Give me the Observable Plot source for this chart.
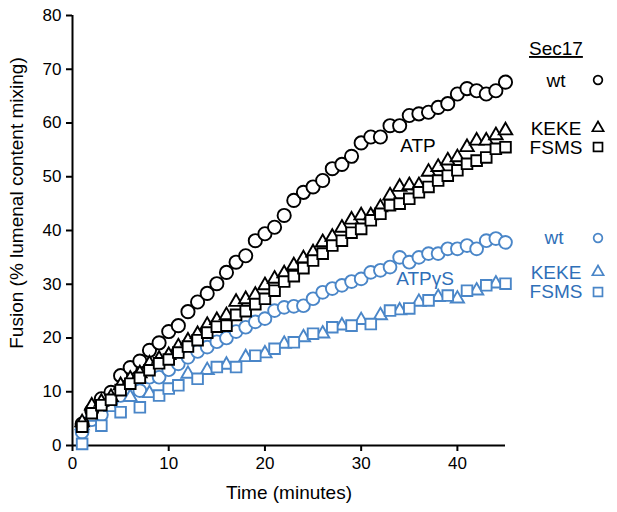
<!DOCTYPE html>
<html>
<head>
<meta charset="utf-8">
<script src="https://cdn.jsdelivr.net/npm/d3@7"></script>
<script src="https://cdn.jsdelivr.net/npm/@observablehq/plot@0.6"></script>
<style>
  body { margin: 0; background: #fff; }
  #chart { width: 617px; height: 512px; }
</style>
</head>
<body>
<div id="chart"></div>
<script>
// Time points (minutes)
const minutes = d3.range(1, 46);

// ATP series
const atpWt   = [4.0,6.5,8.7,9.9,13.0,14.5,15.7,17.7,19.1,21.2,22.3,24.9,26.7,28.3,30.1,32.2,34.1,35.3,38.1,39.4,40.6,42.8,45.6,47.1,48.1,49.3,51.5,52.3,53.8,56.3,57.4,57.4,59.5,59.5,61.4,61.7,62.0,62.9,63.6,65.4,66.4,66.0,65.4,66.0,67.6];
const atpKeke = [4.3,7.4,8.1,9.0,11.2,12.4,13.4,15.2,16.1,16.8,18.4,19.5,20.7,22.4,23.3,24.2,26.7,27.2,28.0,29.8,31.0,32.0,33.5,34.8,35.9,37.8,38.8,40.5,42.0,42.8,42.8,44.3,46.5,48.1,48.4,48.4,50.9,51.8,53.0,53.6,55.5,56.7,56.7,57.7,58.6];
const atpFsms = [3.5,6.0,7.5,8.5,10.3,11.5,12.6,14.0,15.3,16.0,17.3,18.4,19.6,21.0,22.1,22.3,24.3,25.0,26.3,27.3,28.8,30.5,31.5,33.0,34.4,35.7,37.2,38.1,39.6,40.3,41.9,43.1,44.7,45.0,45.9,47.1,48.1,49.3,50.2,51.2,52.4,53.0,53.6,55.2,55.5];

// ATPγS series
const gsWt = [2.5,4.8,5.7,8.0,9.3,10.2,10.2,12.7,12.7,14.1,15.2,16.4,17.5,18.3,19.3,20.0,21.2,22.0,23.0,23.6,25.1,25.7,25.9,26.0,27.3,28.5,29.2,29.8,30.5,31.0,32.2,32.6,33.2,35.0,34.1,35.0,35.7,35.7,36.6,36.6,37.2,36.6,38.1,38.5,37.8];
const gsKekeT = [1,2,4,6,8,12,14,16,18,20,22,24,26,28,30,32,34,36,38,40,42,44];
const gsKeke  = [3.7,5.3,7.1,9.0,9.7,13.3,14.0,15.0,16.4,17.1,18.9,20.1,20.8,22.3,23.3,24.2,25.1,26.7,27.6,27.3,28.8,30.1];
const gsFsmsT = [1,3,5,7,9,10,11,13,15,17,19,21,23,25,27,29,31,33,35,37,39,41,43,45];
const gsFsms  = [0.3,3.7,6.2,7.1,9.3,10.6,11.2,12.4,14.6,14.6,16.7,18.0,19.2,20.8,22.0,22.3,22.6,25.1,25.5,27.0,27.9,28.8,29.8,30.1];

const xTicks = [0,10,20,30,40];
const yTicks = [0,10,20,30,40,50,60,70,80];

const black = "#000";
const blue = "#4a86c8";
const blueText = "#2f6fb8";

const zipT = (ts, vs) => ts.map((t, i) => ({t, v: vs[i]}));
const dAtpWt = zipT(minutes, atpWt);
const dAtpKeke = zipT(minutes, atpKeke);
const dAtpFsms = zipT(minutes, atpFsms);
const dGsWt = zipT(minutes, gsWt);
const dGsKeke = zipT(gsKekeT, gsKeke);
const dGsFsms = zipT(gsFsmsT, gsFsms);

const dotOpts = (symbol, r, stroke) => ({x: "t", y: "v", symbol, r, stroke, fill: "white", strokeWidth: 1.9});

const plot = Plot.plot({
  width: 617,
  height: 512,
  marginLeft: 72,
  marginRight: 112,
  marginTop: 15,
  marginBottom: 67,
  style: {fontFamily: "Liberation Sans, Arial, sans-serif", fontSize: "17px", background: "white", color: "black"},
  x: {domain: [0, 45], label: null},
  y: {domain: [0, 80], label: null},
  marks: [
    Plot.axisX({ticks: xTicks, tickSize: 6, tickPadding: 5, stroke: black, strokeWidth: 2, label: null}),
    Plot.axisY({ticks: yTicks, tickSize: 6, tickPadding: 5, stroke: black, strokeWidth: 2, label: null}),
    Plot.ruleY([0], {stroke: black, strokeWidth: 2}),
    Plot.ruleX([0], {stroke: black, strokeWidth: 2}),
    Plot.dot(dGsWt, dotOpts("circle", 6.4, blue)),
    Plot.dot(dGsKeke, dotOpts("triangle", 4.9, blue)),
    Plot.dot(dGsFsms, dotOpts("square", 6.0, blue)),
    Plot.dot(dAtpWt, dotOpts("circle", 6.6, black)),
    Plot.dot(dAtpKeke, dotOpts("triangle", 5.0, black)),
    Plot.dot(dAtpFsms, dotOpts("square", 6.0, black))
  ]
});

document.getElementById("chart").appendChild(plot);

// Annotations and legend
const svg = d3.select(plot);
const font = "Liberation Sans, Arial, sans-serif";
const addText = (x, y, str, color, size, anchor = "start", extra = {}) => {
  const t = svg.append("text").attr("x", x).attr("y", y).attr("fill", color)
    .style("font-size", size + "px").style("font-family", font).attr("text-anchor", anchor).text(str);
  for (const k in extra) t.attr(k, extra[k]);
  return t;
};

addText(289, 499, "Time (minutes)", black, 19, "middle");
addText(0, 0, "Fusion (% lumenal content mixing)", black, 19, "middle",
  {transform: "translate(23,203) rotate(-90)"});

addText(418, 152, "ATP", black, 19, "middle");
addText(425, 285, "ATPγS", blueText, 19, "middle");

addText(529, 55, "Sec17", black, 19, "start", {"text-decoration": "underline"});

const legendSym = (x, y, type, color) => {
  const sz = type === "circle" ? 60 : type === "triangle" ? 55 : 80;
  const sym = type === "circle" ? d3.symbolCircle : type === "triangle" ? d3.symbolTriangle : d3.symbolSquare;
  svg.append("path").attr("d", d3.symbol(sym, sz)()).attr("transform", `translate(${x},${y})`)
    .attr("fill", "none").attr("stroke", color).attr("stroke-width", 1.7);
};

addText(556, 87, "wt", black, 19, "middle");
legendSym(598, 80, "circle", black);
addText(556, 135, "KEKE", black, 19, "middle");
legendSym(598, 128, "triangle", black);
addText(556, 154, "FSMS", black, 19, "middle");
legendSym(598, 147, "square", black);

addText(554, 244, "wt", blueText, 19, "middle");
legendSym(598, 238, "circle", blue);
addText(556, 279, "KEKE", blueText, 19, "middle");
legendSym(598, 272, "triangle", blue);
addText(556, 298, "FSMS", blueText, 19, "middle");
legendSym(598, 292, "square", blue);
</script>
</body>
</html>
